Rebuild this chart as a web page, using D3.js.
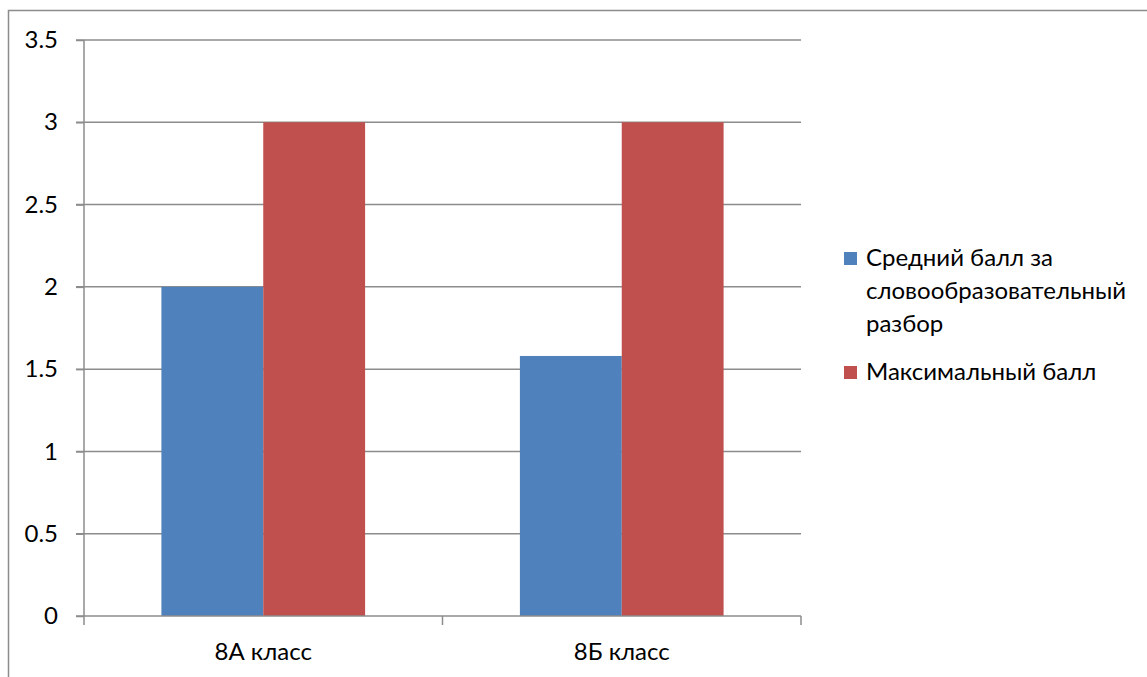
<!DOCTYPE html>
<html><head><meta charset="utf-8">
<script src="https://cdn.jsdelivr.net/npm/d3@7"></script>
<style>body{margin:0;background:#fff}svg{display:block}text{font-family:Lato,"Open Sans",sans-serif;fill:#000}</style>
</head><body>
<svg id="c" width="1147" height="677"></svg>
<script>
const categories = ["8А класс", "8Б класс"];
const seriesNames = ["Средний балл за словообразовательный разбор", "Максимальный балл"];
const legendLines = [["Средний балл за", "словообразовательный", "разбор"], ["Максимальный балл"]];
const avgScores = [2, 1.58];
const maxScores = [3, 3];
const yTicks = [0, 0.5, 1, 1.5, 2, 2.5, 3, 3.5];
const colors = ["#4F81BD", "#C0504D"];

const svg = d3.select("#c");
const m = {l: 84, r: 801, t: 40, b: 616};
const FS = 24;
svg.append("rect").attr("x", 8.5).attr("y", 10.5).attr("width", 1160).attr("height", 700)
  .attr("fill", "none").attr("stroke", "#8c8c8c").attr("stroke-width", 1.5);

const y = d3.scaleLinear().domain([0, 3.5]).range([m.b, m.t]);
const x = d3.scaleBand().domain(categories).range([m.l, m.r]).paddingInner(0).paddingOuter(0);
const xs = d3.scaleBand().domain([0, 1]).range([0, x.bandwidth()]).paddingInner(0).paddingOuter(0.76);

// gridlines
svg.append("g").selectAll("line").data(yTicks.filter(d => d > 0)).join("line")
  .attr("x1", m.l - 8).attr("x2", m.r).attr("y1", d => y(d)).attr("y2", d => y(d))
  .attr("stroke", "#8c8c8c").attr("stroke-width", 1.5);

const data = categories.map((c, i) => ({c, v: [avgScores[i], maxScores[i]]}));
const g = svg.append("g");
data.forEach(d => {
  d.v.forEach((v, j) => {
    g.append("rect").attr("x", x(d.c) + xs(j)).attr("width", xs.bandwidth())
      .attr("y", y(v)).attr("height", y(0) - y(v)).attr("fill", colors[j]);
  });
});

// y axis
const ya = d3.axisLeft(y).tickValues(yTicks).tickSize(8).tickPadding(18).tickFormat(d3.format(""));
const yg = svg.append("g").attr("transform", `translate(${m.l},0)`).call(ya);
yg.select(".domain").attr("stroke", "#8c8c8c").attr("stroke-width", 1.5).attr("d", `M0,${m.t}V${m.b}`);
yg.selectAll(".tick line").attr("stroke", "#8c8c8c").attr("stroke-width", 1.5);
yg.selectAll(".tick text").attr("font-size", FS).attr("font-family", "Lato,sans-serif");

// x axis
const xg = svg.append("g").attr("transform", `translate(0,${m.b})`);
xg.append("line").attr("x1", m.l - 8).attr("x2", m.r).attr("stroke", "#8c8c8c").attr("stroke-width", 1.5);
const edges = [m.l, ...categories.map(c => x(c) + x.bandwidth())];
xg.selectAll("line.t").data(edges).join("line").attr("class", "t")
  .attr("x1", d => d).attr("x2", d => d).attr("y1", 0).attr("y2", 9)
  .attr("stroke", "#8c8c8c").attr("stroke-width", 1.5);
xg.selectAll("text").data(categories).join("text")
  .attr("x", d => x(d) + x.bandwidth() / 2).attr("y", 36).attr("dy", "0.35em").attr("text-anchor", "middle")
  .attr("font-size", FS).text(d => d);

// legend
const leg = svg.append("g");
const legY = [258, 372];
legendLines.forEach((lines, i) => {
  leg.append("rect").attr("x", 844).attr("y", legY[i] - 6).attr("width", 13).attr("height", 13).attr("fill", colors[i]);
  lines.forEach((t, k) => {
    leg.append("text").attr("x", 866).attr("y", legY[i] + k * 33).attr("dy", "0.35em")
      .attr("font-size", FS).text(t);
  });
});
</script>
</body></html>
